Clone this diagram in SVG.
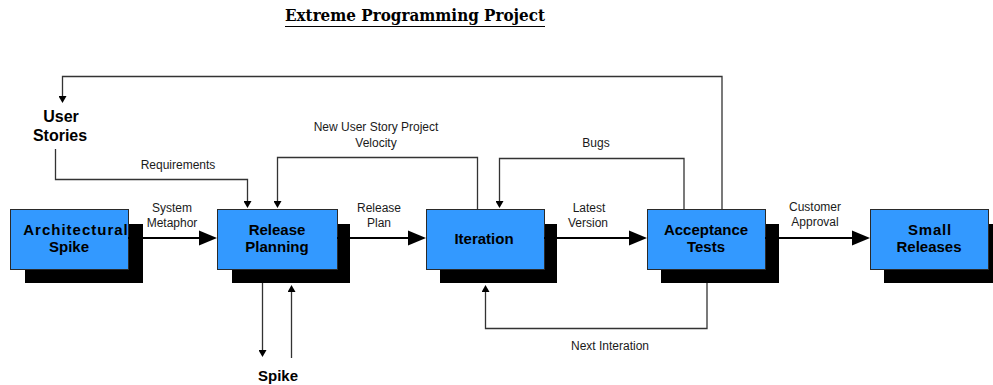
<svg xmlns="http://www.w3.org/2000/svg" width="993" height="385" viewBox="0 0 993 385">
  <style>
    .box { fill: #3399ff; stroke: #2a2a2a; stroke-width: 1; }
    .shadow { fill: #000; }
    .node-label { font-family: "Liberation Sans", Arial, sans-serif; font-weight: bold; font-size: 15px; fill: #000; text-anchor: middle; }
    .free-label { font-family: "Liberation Sans", Arial, sans-serif; font-weight: bold; font-size: 16px; fill: #000; text-anchor: middle; }
    .edge-label { font-family: "Liberation Sans", Arial, sans-serif; font-size: 12px; fill: #1a1a1a; text-anchor: middle; }
    .flow { fill: none; stroke: #000; stroke-width: 2; }
    .link { fill: none; stroke: #333; stroke-width: 1.3; }
    .title { font-family: "DejaVu Serif", "Liberation Serif", serif; font-weight: bold; font-size: 16px; fill: #000; }
  </style>
  <defs>
    <marker id="bigHead" markerUnits="userSpaceOnUse" markerWidth="18" markerHeight="16" refX="0" refY="8" orient="auto">
      <path d="M0,0.5 L18,8 L0,15.5 Z" fill="#000"/>
    </marker>
    <marker id="smallHead" markerUnits="userSpaceOnUse" markerWidth="8" markerHeight="8" refX="0" refY="4" orient="auto">
      <path d="M0,0 L7,4 L0,8 Z" fill="#000"/>
    </marker>
  </defs>

  <rect width="993" height="385" fill="#fff"/>

  <!-- title -->
  <g id="title">
    <text class="title" x="285" y="21" textLength="260" lengthAdjust="spacingAndGlyphs">Extreme Programming Project</text>
    <line x1="285" y1="26.5" x2="545" y2="26.5" stroke="#000" stroke-width="1"/>
  </g>

  <!-- nodes -->
  <g id="architectural-spike">
    <rect class="shadow" x="25" y="224" width="118" height="59"/>
    <rect class="box" x="10.5" y="209.5" width="118" height="60"/>
    <text class="node-label" x="76" y="235" letter-spacing="1">Architectural</text>
    <text class="node-label" x="69" y="252">Spike</text>
  </g>

  <g id="release-planning">
    <rect class="shadow" x="232" y="224" width="118" height="59"/>
    <rect class="box" x="217.5" y="209.5" width="120" height="60"/>
    <text class="node-label" x="277" y="235">Release</text>
    <text class="node-label" x="277" y="252">Planning</text>
  </g>

  <g id="iteration">
    <rect class="shadow" x="440" y="224" width="117" height="59"/>
    <rect class="box" x="426.5" y="209.5" width="118" height="60"/>
    <text class="node-label" x="484" y="244">Iteration</text>
  </g>

  <g id="acceptance-tests">
    <rect class="shadow" x="661" y="224" width="118" height="59"/>
    <rect class="box" x="647.5" y="209.5" width="118" height="60"/>
    <text class="node-label" x="706" y="235">Acceptance</text>
    <text class="node-label" x="706" y="252">Tests</text>
  </g>

  <g id="small-releases">
    <rect class="shadow" x="884" y="224" width="118" height="59"/>
    <rect class="box" x="870.5" y="209.5" width="118" height="60"/>
    <text class="node-label" x="930" y="235" letter-spacing="0.8">Small</text>
    <text class="node-label" x="929" y="252">Releases</text>
  </g>

  <g id="user-stories">
    <text class="free-label" x="61" y="122">User</text>
    <text class="free-label" x="60" y="141">Stories</text>
  </g>

  <g id="spike">
    <text class="node-label" x="278" y="381">Spike</text>
  </g>

  <!-- connectors -->
  <g id="connectors">
    <!-- main flow -->
    <line class="flow" x1="128" y1="238" x2="199" y2="238" marker-end="url(#bigHead)"/>
    <line class="flow" x1="337" y1="238" x2="408" y2="238" marker-end="url(#bigHead)"/>
    <line class="flow" x1="544" y1="238" x2="629" y2="238" marker-end="url(#bigHead)"/>
    <line class="flow" x1="765" y1="238" x2="852" y2="238" marker-end="url(#bigHead)"/>

    <!-- feedback loops -->
    <polyline class="link" points="722,209 722,76.5 62.5,76.5 62.5,96" marker-end="url(#smallHead)"/>
    <polyline class="link" points="55.5,149 55.5,179.5 247.5,179.5 247.5,201" marker-end="url(#smallHead)"/>
    <polyline class="link" points="477.5,209 477.5,157.5 277.5,157.5 277.5,201" marker-end="url(#smallHead)"/>
    <polyline class="link" points="684,209 684,158.5 499.5,158.5 499.5,201" marker-end="url(#smallHead)"/>
    <polyline class="link" points="707,283 707,328.5 485.5,328.5 485.5,292" marker-end="url(#smallHead)"/>

    <!-- spike exchange -->
    <line class="link" x1="262.5" y1="283" x2="262.5" y2="350" marker-end="url(#smallHead)"/>
    <line class="link" x1="291.5" y1="358" x2="291.5" y2="292" marker-end="url(#smallHead)"/>

    <!-- labels -->
    <text class="edge-label" x="172" y="212">System</text>
    <text class="edge-label" x="172" y="227">Metaphor</text>
    <text class="edge-label" x="379" y="212">Release</text>
    <text class="edge-label" x="379" y="227">Plan</text>
    <text class="edge-label" x="589" y="212">Latest</text>
    <text class="edge-label" x="588" y="227">Version</text>
    <text class="edge-label" x="815" y="211">Customer</text>
    <text class="edge-label" x="815" y="226">Approval</text>
    <text class="edge-label" x="178" y="169">Requirements</text>
    <text class="edge-label" x="376" y="131">New User Story Project</text>
    <text class="edge-label" x="376" y="147">Velocity</text>
    <text class="edge-label" x="596" y="147">Bugs</text>
    <text class="edge-label" x="610" y="350">Next Interation</text>
  </g>
</svg>
